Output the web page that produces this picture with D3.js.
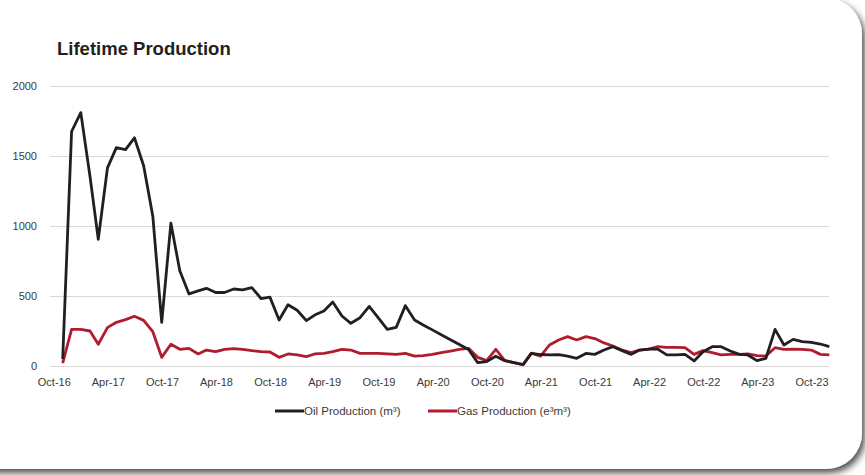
<!DOCTYPE html>
<html>
<head>
<meta charset="utf-8">
<script src="https://cdn.jsdelivr.net/npm/d3@7"></script>
<style>
  html, body { margin: 0; padding: 0; background: #ffffff; }
  svg { display: block; }
</style>
</head>
<body>
<svg id="chart"></svg>
<script>
// Monthly production, Oct-16 .. Nov-23
const firstMonth = new Date(2016, 9, 1);
const oilProduction = [
  50, 1675, 1810, 1355, 905, 1415, 1560, 1545, 1630, 1430, 1070, 312,
  1020, 680, 515, 537, 555, 525, 525, 550, 543, 560, 482, 492,
  329, 438, 398, 324, 364, 393, 457, 357, 305, 345, 426, 345,
  262, 276, 431, 329, 293, 258, 223, 188, 153, 118, 24, 31,
  70, 38, 24, 10, 90, 82, 79, 81, 71, 55, 90, 83,
  114, 138, 110, 83, 114, 121, 121, 79, 79, 83, 36, 102,
  138, 138, 107, 83, 79, 38, 55, 262, 150, 190, 174, 169,
  157, 138
];
const gasProduction = [
  20, 262, 262, 250, 155, 274, 312, 331, 355, 326, 245, 62,
  155, 119, 126, 86, 114, 102, 119, 124, 119, 110, 102, 100,
  62, 86, 79, 67, 86, 90, 102, 119, 114, 90, 90, 90,
  86, 83, 90, 71, 74, 83, 95, 107, 119, 126, 62, 38,
  119, 40, 24, 10, 92, 70, 150, 186, 210, 186, 210, 196,
  165, 143, 114, 95, 114, 121, 138, 133, 133, 131, 83, 110,
  95, 79, 83, 83, 86, 74, 71, 131, 119, 121, 119, 114,
  83, 79
];
const tickLabels = ["Oct-16", "Apr-17", "Oct-17", "Apr-18", "Oct-18", "Apr-19", "Oct-19", "Apr-20",
  "Oct-20", "Apr-21", "Oct-21", "Apr-22", "Oct-22", "Apr-23", "Oct-23"];
const yTicks = [0, 500, 1000, 1500, 2000];
const seriesNames = ["Oil Production (m\u00b3)", "Gas Production (e\u00b3m\u00b3)"];
const seriesColors = ["#231f20", "#b01c2e"];

const width = 865, height = 475;
const plot = {left: 50, right: 829, top: 86, bottom: 366};

const svg = d3.select("#chart")
  .attr("width", width)
  .attr("height", height)
  .attr("viewBox", [0, 0, width, height]);

// card with shadow
const defs = svg.append("defs");
const shadow = defs.append("filter").attr("id", "shadow")
  .attr("x", "-10%").attr("y", "-10%").attr("width", "120%").attr("height", "120%");
shadow.append("feDropShadow")
  .attr("dx", 3).attr("dy", 4).attr("stdDeviation", 3.5)
  .attr("flood-color", "#000").attr("flood-opacity", 0.7);

svg.append("rect")
  .attr("x", -60).attr("y", -2)
  .attr("width", 922).attr("height", 471)
  .attr("rx", 36)
  .attr("fill", "#ffffff")
  .attr("filter", "url(#shadow)");

svg.append("text")
  .attr("x", 57).attr("y", 55)
  .attr("font-family", "Liberation Sans, Arial, sans-serif")
  .attr("font-weight", "bold")
  .attr("font-size", 18.5)
  .attr("fill", "#231f20")
  .text("Lifetime Production");

// points at month end, labels at month start
const dates = oilProduction.map((_, i) => new Date(firstMonth.getFullYear(), firstMonth.getMonth() + i + 1, 0));
const labelDates = tickLabels.map((_, k) => new Date(firstMonth.getFullYear(), firstMonth.getMonth() + 6 * k, 1));

const x = d3.scaleTime()
  .domain([dates[0], dates[dates.length - 1]])
  .range([62.7, 829.3]);
const y = d3.scaleLinear([0, 2000], [plot.bottom, plot.top]);

// gridlines + y labels
const yAxis = d3.axisLeft(y)
  .tickValues(yTicks)
  .tickSize(-(plot.right - plot.left))
  .tickPadding(13)
  .tickFormat(d3.format("d"));

svg.append("g")
  .attr("transform", `translate(${plot.left},0)`)
  .call(yAxis)
  .call(g => g.select(".domain").remove())
  .call(g => g.selectAll(".tick line").attr("stroke", "#d9d9d9").attr("stroke-width", 1))
  .call(g => g.selectAll(".tick text")
    .attr("font-family", "Liberation Sans, Arial, sans-serif")
    .attr("font-size", 11)
    .attr("fill", "#3a3a3a"));

// x labels
const xAxis = d3.axisBottom(x)
  .tickValues(labelDates)
  .tickSize(0)
  .tickPadding(12)
  .tickFormat((d, i) => tickLabels[i]);

svg.append("g")
  .attr("transform", `translate(0,${plot.bottom})`)
  .call(xAxis)
  .call(g => g.select(".domain").remove())
  .call(g => g.selectAll(".tick text")
    .attr("font-family", "Liberation Sans, Arial, sans-serif")
    .attr("font-size", 11)
    .attr("fill", "#3a3a3a"));

// lines (gas underneath oil)
const line = d3.line()
  .x((d, i) => x(dates[i]))
  .y(d => y(d));

[[gasProduction, 1], [oilProduction, 0]].forEach(([series, idx]) => {
  svg.append("path")
    .datum(series)
    .attr("d", line)
    .attr("fill", "none")
    .attr("stroke", seriesColors[idx])
    .attr("stroke-width", 2.8)
    .attr("stroke-linejoin", "round");
});

// legend
const legendX = [275, 428];
const legend = svg.append("g").attr("transform", "translate(0,411)");
seriesNames.forEach((name, i) => {
  const item = legend.append("g").attr("transform", `translate(${legendX[i]},0)`);
  item.append("line")
    .attr("x1", 0).attr("x2", 29)
    .attr("stroke", seriesColors[i])
    .attr("stroke-width", 3);
  item.append("text")
    .attr("x", 29).attr("y", 4)
    .attr("font-family", "Liberation Sans, Arial, sans-serif")
    .attr("font-size", 11.5)
    .attr("fill", "#3a3a3a")
    .text(name);
});
</script>
</body>
</html>
